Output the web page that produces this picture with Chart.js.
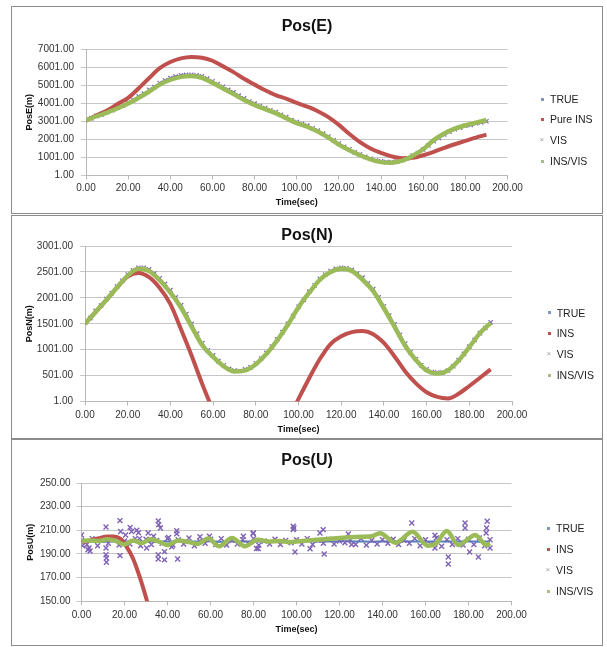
<!DOCTYPE html>
<html>
<head>
<meta charset="utf-8">
<script src="https://cdn.jsdelivr.net/npm/chart.js@4/dist/chart.umd.min.js"></script>
<style>
  body { margin: 0; background: #fff; width: 607px; height: 647px; position: relative; overflow: hidden;
         font-family: "Liberation Sans", Arial, sans-serif; }
  .panel { position: absolute; left: 11px; width: 592px; box-sizing: border-box; border: 1px solid #8c8c8c; background: #fff; }
  .panel canvas { position: absolute; left: 0; top: 0; }
  .title { position: absolute; left: 0; width: 100%; text-align: center; font-weight: bold; font-size: 16px; line-height: 20px; color: #111; }
  .lg { position: absolute; font-size: 10.5px; line-height: 14px; color: #222; white-space: nowrap; }
  .mk { position: absolute; width: 3px; height: 3px; }
  .mkx { position: absolute; font-size: 8px; line-height: 8px; color: #a0a0a0; }
</style>
</head>
<body>

<div class="panel" id="p1" style="top:6px;height:208px">
  <canvas id="chartE" width="590" height="206"></canvas>
  <div class="title" style="top:9px">Pos(E)</div>
</div>
<div class="panel" id="p2" style="top:215px;height:224px">
  <canvas id="chartN" width="590" height="222"></canvas>
  <div class="title" style="top:9px">Pos(N)</div>
</div>
<div class="panel" id="p3" style="top:439px;height:207px">
  <canvas id="chartU" width="590" height="205"></canvas>
  <div class="title" style="top:10px">Pos(U)</div>
</div>

<script>
// time axis (sec)
const timeSec = [0,5,10,15,20,25,30,35,40,45,50,55,60,65,70,75,80,85,90,95,100,105,110,115,120,125,130,135,140,145,150,155,160,165,170,175,180,185,190];
const visTime = [0,2.5,5,7.5,10,12.5,15,17.5,20,22.5,25,27.5,30,32.5,35,37.5,40,42.5,45,47.5,50,52.5,55,57.5,60,62.5,65,67.5,70,72.5,75,77.5,80,82.5,85,87.5,90,92.5,95,97.5,100,102.5,105,107.5,110,112.5,115,117.5,120,122.5,125,127.5,130,132.5,135,137.5,140,142.5,145,147.5,150,152.5,155,157.5,160,162.5,165,167.5,170,172.5,175,177.5,180,182.5,185,187.5,190];

// Pos(E)
const trueE = [3050,3290,3500,3750,4020,4360,4720,5110,5380,5530,5560,5470,5200,4890,4580,4250,3960,3720,3490,3210,2940,2740,2470,2140,1750,1430,1150,910,770,730,830,1080,1420,1880,2250,2540,2730,2870,2990];
const insE = [3050,3330,3600,3960,4300,4830,5400,5940,6280,6480,6560,6520,6350,6040,5720,5350,5030,4720,4450,4250,4020,3810,3560,3230,2800,2300,1850,1500,1250,1060,960,980,1120,1310,1530,1730,1920,2100,2260];
const fusedE = [3050,3280,3480,3720,3980,4300,4650,5030,5300,5460,5510,5410,5130,4820,4510,4180,3900,3670,3450,3170,2900,2700,2430,2100,1710,1400,1120,890,740,710,820,1090,1450,1960,2330,2600,2780,2920,3070];
const visE = [3070,3160,3300,3380,3510,3610,3760,3880,4040,4180,
  4380,4530,4740,4900,5120,5260,5400,5470,5550,5570,
  5580,5540,5490,5360,5220,5060,4910,4740,4600,4420,
  4270,4100,3980,3850,3740,3610,3510,3360,3230,3070,
  2960,2850,2760,2610,2490,2320,2160,1950,1770,1590,
  1450,1290,1170,1030,930,830,790,740,750,770,
  850,950,1100,1250,1440,1660,1900,2080,2270,2420,
  2560,2650,2750,2800,2890,2940,3000];

// Pos(N)
const trueN = [1501,1740,1970,2210,2440,2570,2540,2370,2130,1850,1480,1110,880,690,590,610,730,930,1190,1490,1820,2110,2360,2510,2570,2540,2380,2160,1830,1480,1110,810,610,550,590,790,1050,1310,1520];
const insN = [1501,1730,1960,2200,2410,2480,2400,2190,1880,1390,880,330,-170,-600,-950,-1150,-1200,-1050,-750,-380,50,450,820,1110,1260,1340,1360,1300,1130,870,580,350,180,90,60,150,300,460,620];
const fusedN = [1501,1730,1960,2200,2430,2560,2520,2340,2100,1810,1440,1080,860,680,580,600,720,920,1180,1480,1820,2100,2350,2500,2560,2520,2350,2130,1800,1440,1070,800,600,540,600,790,1050,1320,1520];
const visN = [1520,1610,1750,1850,1980,2090,2220,2330,2450,2530,
  2580,2580,2550,2470,2380,2270,2150,2010,1860,1690,
  1500,1310,1130,990,890,780,700,630,600,590,
  620,660,740,830,940,1060,1200,1340,1500,1650,
  1830,1960,2120,2240,2370,2450,2520,2560,2580,2570,
  2540,2470,2390,2280,2170,2010,1840,1660,1490,1290,
  1120,950,820,700,620,570,560,560,600,680,
  800,920,1060,1190,1320,1420,1530];

// Pos(U)
const trueU = [200.5,200.8,200.4,200.6,200.5,200.7,200.3,200.6,200.5,200.4,200.6,200.5,200.7,200.4,200.5,200.6,200.5,200.4,200.6,200.5,200.5,200.7,200.6,200.5,200.8,200.6,200.5,200.4,200.6,200.5,200.7,200.5,200.4,200.6,200.5,200.5,200.6,200.4,200.5];
const insUTime = [0,4,8,12,15,18,21,24,27,30.5,34];
const insU = [200,201.5,203.3,204.8,204.8,203,196,186,171,150,126];
const fusedUTime = [0,4,8,12,16,20,24,28,32,36,40,45,50,54,59,64,70,76,82,87,92,97,100,110,120,130,135,138.8,146,154,161,165,169.9,175.3,180,183,188.5,190];
const fusedU = [201,201.5,201,202.5,201,198,201.5,199,202.5,200.5,197.5,201.5,200,198.5,203,196.5,203.5,196.5,202,200.5,201,200,200.5,202,203.5,204.5,205,207.6,199.5,208.7,197,199,209.5,197.5,203,206,197.5,199];
const visU = [201.5,198,203,197,202,199,203.5,197.5,201,198.5,
  203,197,202.5,198,201.5,199,203,197.5,202,198.5,
  203.5,197,201,199,202.5,198,203,197.5,201.5,198.5,
  202,199,203,197.5,201,198.5,202.5,198,201.5,199.5,
  202,198.5,203,198,201.5,199,202.5,198.5,201,199.5,
  202,198,203,197.5,201.5,198.5,202,199,202.5,198,
  201.5,199,203,197,202,198.5,203.5,196.5,202,198,
  203,197.5,202.5,198,203.5,197,202];
const visOutTime = [0,0.5,3,3.5,4,11.4,11.4,11.4,11.6,11.6,17.9,17.9,18.2,20.5,22.6,23.3,25.7,26.5,27,30.3,31,33.5,35.7,35.9,36.7,35.7,35.7,38.6,38.6,40.5,42,44.3,44.3,44.7,55.1,59.5,75.3,79.8,79.9,81.4,82.2,98.5,98.5,98.8,99.3,106.3,110.9,112.4,112.9,124.1,125.6,153.6,164.4,164.4,170.6,170.6,178.4,178.4,180.5,184.6,188.2,188.4,188.7,190];
const visOutU = [206,197,193.5,195,192.5,212.8,195,189.4,186.6,183,218.2,188.6,209,206,212.5,209,210,208,203,195,207.7,205,218,214.8,212,189.4,185.8,192,185,204,196,209.7,207,185.8,204.5,205,205,207.3,207.7,194.7,194.7,213.4,210.6,212,191.7,194.5,207.7,210.6,190,206.9,197.9,216.2,205.8,195,187.5,181.5,216.2,212,191.7,187.5,207.7,212,217.6,195];

const pts = (xs, ys) => xs.map((x, i) => ({ x: x, y: ys[i] }));

const COL_TRUE = '#4F81BD', COL_INS = '#C0504D', COL_VIS = '#7F62B5', COL_FUSED = '#9BBB59';
const tickFont = { family: '"Liberation Sans", Arial, sans-serif', size: 10 };
const titleFont = { family: '"Liberation Sans", Arial, sans-serif', size: 9, weight: 'bold' };

function lineSet(label, data, color, width, order) {
  return { label, data, showLine: true, borderColor: color, backgroundColor: color, borderWidth: width,
           pointRadius: 0, cubicInterpolationMode: 'monotone', order };
}
function visSet(data, radius, width) {
  return { label: 'VIS', data, showLine: false, pointStyle: 'crossRot', pointRadius: radius,
           borderColor: COL_VIS, backgroundColor: COL_VIS, borderWidth: width, order: 2 };
}

function buildChart(id, o) {
  return new Chart(document.getElementById(id), {
    type: 'scatter',
    data: { datasets: o.datasets },
    options: {
      responsive: false, animation: false, events: [],
      layout: { padding: { left: 0, top: o.area.top, right: o.width - o.area.right, bottom: 0 } },
      plugins: { legend: { display: false }, tooltip: { enabled: false } },
      scales: {
        x: {
          type: 'linear', min: 0, max: 200,
          ticks: { stepSize: 20, autoSkip: false, maxRotation: 0, padding: o.xTickPad, font: tickFont, color: '#333',
                   callback: v => v.toFixed(2) },
          grid: { drawOnChartArea: false, drawTicks: true, tickLength: 4, color: '#b8b8b8' },
          border: { display: true, color: '#b8b8b8' },
          title: { display: true, text: 'Time(sec)', font: titleFont, color: '#111', padding: { top: 0, bottom: o.xTitlePad } },
          afterFit: s => { s.height = o.height - o.area.bottom; }
        },
        y: {
          min: o.yMin, max: o.yMax,
          ticks: { stepSize: o.yStep, padding: o.yTickPad, font: tickFont, color: '#333', callback: v => v.toFixed(2) },
          grid: { color: '#c6c6c6', tickLength: 5 },
          border: { display: true, color: '#b8b8b8' },
          title: { display: true, text: o.yTitle, font: titleFont, color: '#111', padding: { top: o.yTitlePad, bottom: 0 } },
          afterFit: s => { s.width = o.area.left; }
        }
      }
    }
  });
}

function addLegend(panelId, names, mx, tx, ys) {
  const panel = document.getElementById(panelId);
  const marks = [
    '<span class="mk" style="background:#8096bd"></span>',
    '<span class="mk" style="background:' + COL_INS + '"></span>',
    '<span class="mkx">&times;</span>',
    '<span class="mk" style="background:#aabb88"></span>'
  ];
  names.forEach((name, i) => {
    const m = document.createElement('div');
    m.innerHTML = marks[i];
    const el = m.firstChild;
    if (i === 2) { el.style.left = (mx - 2.5) + 'px'; el.style.top = (ys[i] - 4) + 'px'; }
    else { el.style.left = (mx - 1.5) + 'px'; el.style.top = (ys[i] - 1.5) + 'px'; }
    panel.appendChild(el);
    const t = document.createElement('div');
    t.className = 'lg';
    t.textContent = name;
    t.style.left = tx + 'px';
    t.style.top = (ys[i] - 7) + 'px';
    panel.appendChild(t);
  });
}

buildChart('chartE', {
  width: 590, height: 206, area: { left: 74, right: 495.5, top: 42, bottom: 168.5 },
  yMin: 1, yMax: 7001, yStep: 1000, yTitle: 'PosE(m)', yTitlePad: 12.6, yTickPad: 7, xTickPad: 2.5, xTitlePad: 4.6,
  datasets: [
    lineSet('INS/VIS', pts(timeSec, fusedE), COL_FUSED, 4.5, 0),
    lineSet('Pure INS', pts(timeSec, insE), COL_INS, 4, 1),
    visSet(pts(visTime, visE), 3, 1.2),
    lineSet('TRUE', pts(timeSec, trueE), COL_TRUE, 2, 3)
  ]
});

buildChart('chartN', {
  width: 590, height: 222, area: { left: 73, right: 500, top: 30, bottom: 185.5 },
  yMin: 1, yMax: 3001, yStep: 500, yTitle: 'PosN(m)', yTitlePad: 12.6, yTickPad: 7, xTickPad: 3.5, xTitlePad: 2.6,
  datasets: [
    lineSet('INS/VIS', pts(timeSec, fusedN), COL_FUSED, 4.5, 0),
    lineSet('INS', pts(timeSec, insN), COL_INS, 4, 1),
    visSet(pts(visTime, visN), 3, 1.2),
    lineSet('TRUE', pts(timeSec, trueN), COL_TRUE, 2, 3)
  ]
});

buildChart('chartU', {
  width: 590, height: 205, area: { left: 69.5, right: 499.5, top: 43, bottom: 161.3 },
  yMin: 150, yMax: 250, yStep: 20, yTitle: 'PosU(m)', yTitlePad: 13.3, yTickPad: 6, xTickPad: 3.5, xTitlePad: 9.6,
  datasets: [
    lineSet('INS/VIS', pts(fusedUTime, fusedU), COL_FUSED, 4.5, 0),
    lineSet('INS', pts(insUTime, insU), COL_INS, 4, 1),
    visSet(pts(visTime, visU).concat(pts(visOutTime, visOutU)), 3.5, 1.4),
    lineSet('TRUE', pts(timeSec, trueU), COL_TRUE, 2, 3)
  ]
});

addLegend('p1', ['TRUE', 'Pure INS', 'VIS', 'INS/VIS'], 530, 538, [92, 112, 133, 154]);
addLegend('p2', ['TRUE', 'INS', 'VIS', 'INS/VIS'], 537, 544.7, [96.7, 117.3, 138, 159]);
addLegend('p3', ['TRUE', 'INS', 'VIS', 'INS/VIS'], 536, 544, [88.3, 109.3, 130, 151]);
</script>
</body>
</html>
